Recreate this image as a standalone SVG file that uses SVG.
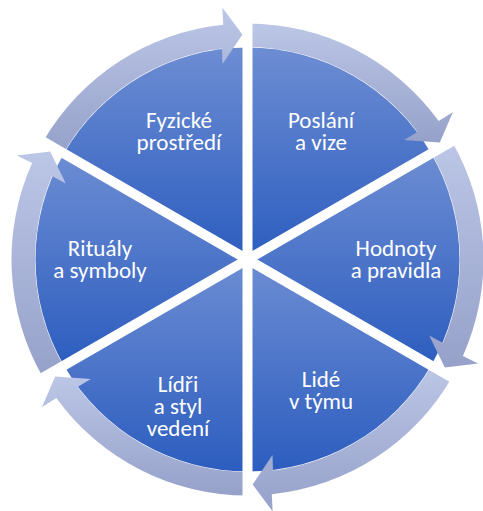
<svg xmlns="http://www.w3.org/2000/svg" width="483" height="511" viewBox="0 0 483 511">
<defs>
<linearGradient id="seg" x1="0" y1="0" x2="0" y2="1">
<stop offset="0" stop-color="#6d8dd3"/>
<stop offset="1" stop-color="#2c5dbf"/>
</linearGradient>
<linearGradient id="ring" x1="0" y1="0" x2="0" y2="1">
<stop offset="0" stop-color="#bcc6e6"/>
<stop offset="1" stop-color="#96a1ca"/>
</linearGradient>
</defs>
<style>
.seg{fill:url(#seg)}
.arr{fill:url(#ring)}
.gap{stroke:#ffffff;stroke-width:10;fill:none}
.lbl{font-family:Carlito,Lato,"Liberation Sans",sans-serif;font-size:23px;fill:#ffffff;text-anchor:middle}
</style>
<g id="posl">
<path class="seg" d="M247.5 259.5 L247.5 47.5 A212 212 0 0 1 431.1 153.5 Z"/>
<text class="lbl"><tspan x="321" y="128">Poslání</tspan><tspan x="321" y="150">a vize</tspan></text>
</g>
<g id="hodn">
<path class="seg" d="M247.5 259.5 L431.1 153.5 A212 212 0 0 1 431.1 365.5 Z"/>
<text class="lbl"><tspan x="396" y="256">Hodnoty</tspan><tspan x="396" y="278">a pravidla</tspan></text>
</g>
<g id="lide">
<path class="seg" d="M247.5 259.5 L431.1 365.5 A212 212 0 0 1 247.5 471.5 Z"/>
<text class="lbl"><tspan x="321" y="387">Lidé</tspan><tspan x="321" y="409">v týmu</tspan></text>
</g>
<g id="lidri">
<path class="seg" d="M247.5 259.5 L247.5 471.5 A212 212 0 0 1 63.9 365.5 Z"/>
<text class="lbl"><tspan x="178" y="392">Lídři</tspan><tspan x="178" y="414">a styl</tspan><tspan x="178" y="436">vedení</tspan></text>
</g>
<g id="ritu">
<path class="seg" d="M247.5 259.5 L63.9 365.5 A212 212 0 0 1 63.9 153.5 Z"/>
<text class="lbl"><tspan x="100" y="256">Rituály</tspan><tspan x="100" y="278">a symboly</tspan></text>
</g>
<g id="fyz">
<path class="seg" d="M247.5 259.5 L63.9 153.5 A212 212 0 0 1 247.5 47.5 Z"/>
<text class="lbl"><tspan x="179" y="128">Fyzické</tspan><tspan x="179" y="150">prostředí</tspan></text>
</g>
<g id="connectors">
<path class="arr" d="M247.5 23.5 A236 236 0 0 1 438.7 121.1 L453.0 111.9 L439.8 142.6 L404.2 140.1 L417.4 131.9 A212.5 212.5 0 0 0 247.5 47.0 Z"/>
<path class="arr" d="M451.9 141.5 A236 236 0 0 1 462.9 355.9 L478.1 363.6 L444.8 367.5 L429.2 335.5 L443.0 342.9 A212.5 212.5 0 0 0 431.5 153.25 Z"/>
<path class="arr" d="M451.9 377.5 A236 236 0 0 1 271.8 494.2 L272.6 511.3 L252.6 484.4 L272.5 454.9 L273.0 470.5 A212.5 212.5 0 0 0 431.5 365.75 Z"/>
<path class="arr" d="M247.5 495.5 A236 236 0 0 1 56.3 397.9 L42.0 407.1 L55.2 376.4 L90.8 378.9 L77.6 387.1 A212.5 212.5 0 0 0 247.5 472.0 Z"/>
<path class="arr" d="M43.1 377.5 A236 236 0 0 1 32.1 163.1 L16.9 155.4 L50.2 151.5 L65.8 183.5 L52.0 176.1 A212.5 212.5 0 0 0 63.5 365.75 Z"/>
<path class="arr" d="M43.1 141.5 A236 236 0 0 1 223.2 24.8 L222.4 7.7 L242.4 34.6 L222.5 64.1 L222.0 48.5 A212.5 212.5 0 0 0 63.5 153.25 Z"/>
<line class="gap" x1="247.5" y1="-5" x2="247.5" y2="525"/>
<line class="gap" x1="474.4" y1="128.5" x2="20.6" y2="390.5"/>
<line class="gap" x1="474.4" y1="390.5" x2="20.6" y2="128.5"/>
</g>
</svg>
